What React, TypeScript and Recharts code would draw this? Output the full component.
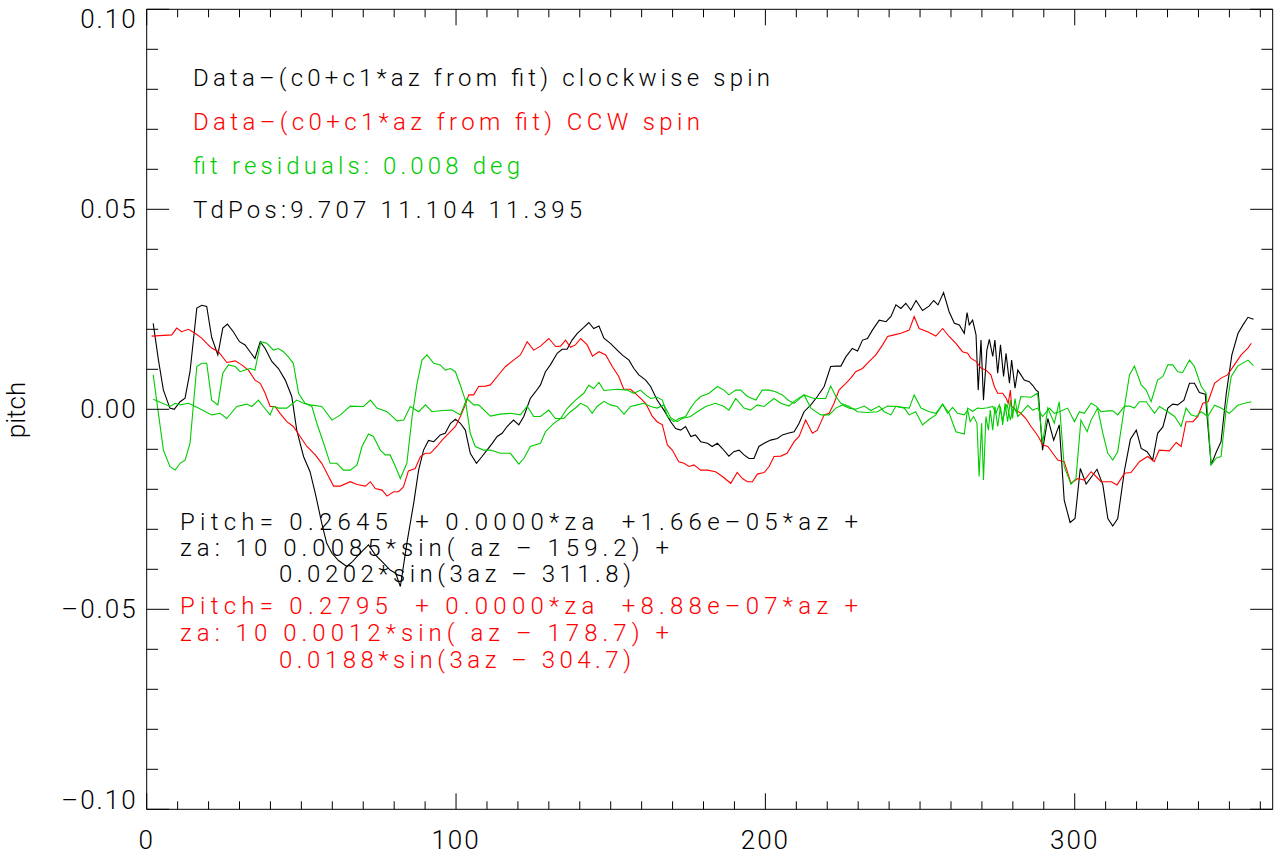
import { LineChart, XAxis, YAxis, Line } from 'recharts';

// Data − (c0 + c1*az from fit), clockwise spin  [az, pitch]
const cwSpin: [number, number][] = [
  [2.1, 0.0215], [3.8, 0.0123], [5.4, 0.0048], [7.5, 0.0003], [8.9, 0.0], [10.8, 0.0019], [12.4, 0.0028],
  [14.0, 0.0094], [16.2, 0.0253], [17.8, 0.026], [19.4, 0.0257], [21.0, 0.018], [23.0, 0.0136], [24.6, 0.0203],
  [26.1, 0.0213], [28.0, 0.0194], [30.0, 0.0169], [31.8, 0.0161], [33.4, 0.0144], [35.0, 0.0127], [36.7, 0.0169],
  [38.3, 0.0152], [40.5, 0.0119], [42.6, 0.0102], [44.8, 0.0073], [46.9, 0.0032], [48.5, -0.0052], [50.7, -0.0118],
  [52.8, -0.0156], [54.5, -0.021], [56.6, -0.0285], [58.2, -0.0335], [59.9, -0.036], [62.0, -0.0378], [64.7, -0.0393],
  [66.6, -0.038], [68.5, -0.0364], [71.7, -0.0339], [73.9, -0.0364], [76.1, -0.0381], [78.7, -0.0402], [80.5, -0.041],
  [82.0, -0.0443], [84.1, -0.0335], [86.3, -0.0235], [87.9, -0.0152], [89.5, -0.0102], [91.1, -0.0078], [92.8, -0.0081],
  [94.9, -0.0064], [96.5, -0.006], [98.2, -0.0035], [99.8, -0.0025], [101.4, -0.0035], [103.0, -0.0052], [104.6, -0.011],
  [106.6, -0.0135], [108.4, -0.0118], [110.0, -0.0102], [111.7, -0.0085], [113.3, -0.0068], [114.9, -0.006], [116.5, -0.0043],
  [118.6, -0.0027], [120.3, -0.0039], [121.9, -0.0018], [124.0, 0.0027], [125.7, 0.0044], [127.3, 0.0061], [128.9, 0.0094],
  [130.5, 0.0111], [132.7, 0.014], [134.3, 0.015], [135.9, 0.015], [137.5, 0.0173], [139.2, 0.019], [141.3, 0.0205],
  [142.9, 0.0217], [144.5, 0.0202], [146.2, 0.0208], [147.8, 0.0178], [149.9, 0.0165], [152.1, 0.0148], [153.7, 0.0136],
  [155.9, 0.0123], [157.5, 0.0102], [159.1, 0.0086], [161.3, 0.0073], [162.9, 0.0057], [165.0, 0.0023], [167.2, -0.0002],
  [169.4, -0.0031], [171.0, -0.0048], [172.6, -0.0052], [174.2, -0.0043], [175.9, -0.0068], [177.4, -0.0064], [179.1, -0.0081],
  [181.3, -0.0085], [182.8, -0.0093], [184.5, -0.0085], [186.1, -0.0098], [188.2, -0.0117], [189.8, -0.0106], [191.5, -0.0102],
  [193.1, -0.0114], [194.7, -0.0123], [196.3, -0.0123], [197.9, -0.0093], [199.6, -0.0085], [201.7, -0.0077], [203.9, -0.0073],
  [205.5, -0.0064], [207.3, -0.006], [209.3, -0.0056], [210.9, -0.0035], [212.5, -0.0006], [214.7, 0.0011], [216.8, 0.0032],
  [219.0, 0.0057], [221.1, 0.0107], [222.8, 0.0108], [224.4, 0.0108], [226.0, 0.0131], [228.1, 0.0152], [229.8, 0.0146],
  [231.4, 0.0173], [233.0, 0.0177], [234.6, 0.0198], [236.8, 0.0223], [239.0, 0.0219], [240.6, 0.0232], [242.2, 0.0261],
  [243.8, 0.0252], [245.4, 0.0265], [247.0, 0.0248], [248.7, 0.0272], [250.8, 0.0247], [252.9, 0.0258], [254.4, 0.0272],
  [255.8, 0.0261], [257.6, 0.0292], [259.4, 0.0244], [261.1, 0.0215], [262.7, 0.0211], [264.3, 0.019], [265.2, 0.0242],
  [265.9, 0.0211], [267.0, 0.0223], [268.1, 0.0186], [268.8, 0.0048], [269.7, 0.0173], [270.5, 0.0023], [271.6, 0.0148],
  [272.4, 0.0175], [273.5, 0.0132], [274.2, 0.0173], [275.1, 0.009], [276.0, 0.0161], [277.0, 0.0082], [277.8, 0.014],
  [278.9, 0.0065], [279.6, 0.0123], [280.7, 0.0053], [281.6, 0.0098], [282.6, 0.0086], [283.7, 0.0073], [285.3, 0.0069],
  [286.4, 0.006], [287.5, 0.0048], [288.2, 0.0044], [289.6, -0.0102], [291.3, -0.0023], [293.2, -0.0077], [295.0, -0.0039],
  [296.6, -0.0227], [298.5, -0.0283], [300.1, -0.0273], [301.8, -0.0148], [303.7, -0.0187], [305.5, -0.0168], [307.2, -0.015],
  [309.1, -0.0189], [310.7, -0.0273], [312.3, -0.0292], [313.9, -0.0273], [316.1, -0.0152], [318.0, -0.0075], [319.9, -0.0052],
  [321.5, -0.0098], [323.4, -0.0106], [325.2, -0.0127], [326.8, -0.006], [328.5, -0.0044], [330.1, 0.0003], [331.7, 0.0013],
  [333.3, 0.0011], [335.3, 0.0023], [337.1, 0.0065], [338.7, 0.0065], [340.3, 0.0042], [342.2, 0.0038], [344.1, -0.0139],
  [345.8, -0.0106], [347.3, -0.0081], [349.0, 0.004], [350.8, 0.0136], [352.8, 0.019], [354.4, 0.0211], [356.0, 0.023],
  [357.8, 0.0225],
];

// Data − (c0 + c1*az from fit), CCW spin
const ccwSpin: [number, number][] = [
  [1.6, 0.0183], [8.1, 0.0186], [9.7, 0.0203], [11.3, 0.0194], [13.5, 0.02], [15.6, 0.019], [17.8, 0.0178],
  [19.4, 0.0165], [21.0, 0.0153], [23.2, 0.0144], [25.9, 0.0117], [28.6, 0.0121], [30.7, 0.0111], [32.9, 0.0098],
  [35.0, 0.0073], [36.7, 0.0065], [38.3, 0.004], [39.9, 0.0007], [41.5, 0.0007], [43.1, -0.001], [45.3, -0.0031],
  [47.4, -0.0043], [49.6, -0.0068], [51.8, -0.0093], [54.5, -0.0114], [56.6, -0.0135], [58.8, -0.0168], [60.4, -0.0192],
  [62.6, -0.0192], [65.8, -0.0181], [68.0, -0.0188], [70.7, -0.0192], [72.3, -0.0181], [73.9, -0.0198], [76.1, -0.0202],
  [77.7, -0.0217], [79.8, -0.0206], [81.4, -0.0206], [83.0, -0.0194], [84.6, -0.0154], [86.8, -0.0148], [88.5, -0.0118],
  [90.1, -0.011], [91.7, -0.011], [93.8, -0.0093], [95.5, -0.0077], [97.6, -0.006], [99.8, -0.0043], [101.4, -0.0018],
  [103.0, 0.0011], [104.1, 0.0036], [105.7, 0.0036], [107.3, 0.0057], [109.5, 0.0058], [111.1, 0.0061], [113.3, 0.0082],
  [116.0, 0.0107], [118.6, 0.0123], [120.8, 0.0136], [123.0, 0.0169], [125.1, 0.0148], [127.3, 0.0158], [130.0, 0.0177],
  [132.2, 0.0157], [133.8, 0.0158], [135.4, 0.0173], [137.0, 0.0155], [138.6, 0.0161], [140.3, 0.0177], [142.4, 0.0161],
  [144.1, 0.0133], [146.2, 0.0144], [148.4, 0.0136], [150.5, 0.0107], [152.6, 0.0082], [154.2, 0.005], [156.4, 0.005],
  [158.5, 0.0036], [161.3, 0.0015], [163.4, -0.0017], [165.0, -0.0031], [166.7, -0.0039], [168.3, -0.0089], [169.9, -0.0102],
  [172.0, -0.0131], [173.7, -0.0135], [175.3, -0.0143], [176.9, -0.0139], [179.1, -0.0152], [181.3, -0.0152], [183.9, -0.0156],
  [186.1, -0.0168], [188.8, -0.0185], [190.9, -0.0158], [192.6, -0.0173], [194.2, -0.0181], [195.8, -0.0181], [197.4, -0.0162],
  [199.6, -0.0158], [201.2, -0.0143], [202.8, -0.0118], [205.0, -0.0117], [207.0, -0.011], [209.3, -0.0081], [210.9, -0.0068],
  [213.0, -0.0027], [215.2, -0.006], [216.8, -0.0052], [219.0, -0.0014], [220.6, -0.001], [222.2, 0.0015], [223.8, 0.0048],
  [226.0, 0.0065], [227.6, 0.0078], [229.2, 0.0094], [231.4, 0.0102], [233.5, 0.0119], [235.7, 0.0136], [237.9, 0.0161],
  [239.5, 0.0182], [241.6, 0.0186], [243.8, 0.019], [246.5, 0.0198], [248.1, 0.0232], [249.7, 0.0202], [252.4, 0.0194],
  [255.1, 0.0183], [257.3, 0.0202], [259.4, 0.0182], [261.6, 0.0165], [263.7, 0.0144], [265.4, 0.014], [266.4, 0.0128],
  [268.1, 0.012], [269.7, 0.0103], [271.3, 0.0098], [272.9, 0.0086], [274.0, 0.0057], [275.1, 0.004], [276.7, 0.004],
  [277.8, 0.0028], [278.5, 0.0015], [279.2, 0.0048], [279.6, 0.0007], [281.0, -0.0002], [282.6, -0.001], [284.2, -0.0023],
  [285.9, -0.0043], [287.5, -0.006], [288.6, -0.0073], [289.6, -0.0089], [291.3, -0.0093], [292.9, -0.011], [294.5, -0.0127],
  [296.6, -0.0131], [298.8, -0.0185], [301.0, -0.0173], [303.1, -0.0177], [305.3, -0.0156], [306.9, -0.0168], [308.5, -0.0181],
  [311.8, -0.0181], [313.7, -0.0189], [316.1, -0.016], [318.2, -0.0158], [320.9, -0.0131], [323.6, -0.0118], [325.7, -0.0131],
  [327.3, -0.0102], [330.6, -0.0104], [332.8, -0.0083], [334.4, -0.0093], [336.0, -0.0031], [338.2, -0.0031], [339.8, -0.0018],
  [341.4, 0.0015], [343.1, 0.0019], [345.2, 0.0065], [347.3, 0.0078], [349.4, 0.0086], [351.6, 0.0111], [353.8, 0.0136],
  [356.0, 0.0153], [357.1, 0.0165],
];

// fit residuals, clockwise
const cwResidual: [number, number][] = [
  [2.1, 0.0086], [5.4, -0.0102], [7.5, -0.0143], [9.2, -0.0152], [10.8, -0.0135], [12.4, -0.0127], [14.0, -0.0085],
  [16.2, 0.0107], [17.8, 0.0115], [19.4, 0.0115], [21.0, 0.0023], [23.0, 0.0011], [24.6, 0.009], [26.4, 0.0111],
  [28.6, 0.0107], [30.2, 0.0094], [31.8, 0.0098], [33.4, 0.0102], [35.0, 0.0098], [36.9, 0.0169], [38.8, 0.0165],
  [41.0, 0.0148], [42.6, 0.0152], [44.2, 0.0144], [45.8, 0.0131], [47.4, 0.0115], [49.1, 0.004], [51.2, 0.0015],
  [53.4, 0.0007], [55.0, -0.0035], [57.2, -0.0085], [59.3, -0.0135], [61.5, -0.0135], [63.6, -0.0152], [65.8, -0.0152],
  [68.0, -0.0139], [69.6, -0.0093], [71.7, -0.0062], [73.3, -0.0068], [75.5, -0.0102], [77.1, -0.0114], [78.7, -0.0114],
  [80.4, -0.0143], [82.0, -0.0173], [84.1, -0.0135], [85.8, -0.0018], [87.4, 0.0065], [89.0, 0.0123], [90.6, 0.0136],
  [92.8, 0.0115], [94.9, 0.0111], [96.5, 0.0098], [98.2, 0.0102], [99.8, 0.0094], [101.4, 0.006], [103.0, 0.0023],
  [104.6, -0.006], [106.2, -0.0093], [108.9, -0.0102], [111.1, -0.0102], [114.3, -0.011], [117.6, -0.011], [120.3, -0.0137],
  [121.9, -0.0123], [124.0, -0.0093], [127.3, -0.0085], [128.9, -0.0056], [131.6, -0.0035], [133.8, -0.0023], [135.9, 0.0002],
  [138.6, 0.0023], [141.3, 0.004], [142.9, 0.006], [144.5, 0.0052], [146.2, 0.0067], [147.8, 0.0047], [152.1, 0.005],
  [155.3, 0.0048], [157.5, 0.004], [159.6, 0.0048], [161.3, 0.0036], [162.9, 0.0027], [165.0, 0.003], [166.7, 0.0023],
  [168.3, -0.0018], [170.4, -0.0031], [172.1, -0.0023], [174.2, -0.0018], [175.8, 0.0003], [177.4, 0.002], [179.1, 0.0032],
  [181.8, 0.004], [184.5, 0.0057], [186.6, 0.0048], [188.2, 0.0036], [190.4, 0.0048], [192.0, 0.0048], [194.2, 0.0032],
  [196.9, 0.0023], [199.0, 0.0048], [201.2, 0.0048], [203.3, 0.0044], [205.5, 0.0036], [207.5, 0.0022], [209.3, 0.0015],
  [212.5, 0.0036], [215.7, 0.0027], [219.5, 0.0027], [221.1, 0.0058], [222.8, 0.0032], [224.4, 0.0015], [227.1, 0.0007],
  [229.8, -0.0006], [233.0, -0.0008], [236.2, -0.0006], [239.5, 0.0008], [242.2, 0.0007], [246.5, 0.0003], [248.1, 0.0036],
  [250.3, 0.0003], [253.0, -0.0006], [255.1, -0.001], [257.3, 0.0013], [259.4, -0.001], [261.6, -0.0056], [264.3, -0.0062],
  [265.4, 0.0003], [267.0, -0.0005], [268.6, 0.0003], [270.2, 0.0002], [271.8, 0.0004], [273.5, 0.0007], [274.5, -0.001],
  [275.6, 0.0011], [276.7, -0.0027], [278.1, 0.0013], [279.2, -0.0027], [280.2, 0.0007], [281.3, -0.001], [282.6, 0.0032],
  [285.9, 0.003], [288.0, 0.004], [289.6, -0.0085], [291.3, 0.0003], [293.4, -0.0035], [295.0, 0.0019], [296.6, -0.0143],
  [298.8, -0.0187], [300.4, -0.0173], [302.0, -0.0027], [304.0, -0.0056], [305.3, -0.0027], [307.4, 0.0003], [309.1, -0.006],
  [310.7, -0.011], [312.3, -0.0127], [313.9, -0.0106], [316.1, 0.0007], [317.7, 0.0086], [319.3, 0.0108], [321.5, 0.0061],
  [323.1, 0.0048], [324.7, 0.0019], [326.8, 0.0073], [328.5, 0.0082], [330.1, 0.0111], [331.7, 0.0111], [333.3, 0.0094],
  [334.9, 0.0092], [337.1, 0.0123], [338.7, 0.0107], [340.9, 0.0057], [342.5, 0.004], [344.1, -0.0139], [345.7, -0.0122],
  [347.3, -0.0118], [349.0, 0.0003], [350.6, 0.0082], [352.7, 0.0108], [356.0, 0.0123], [357.8, 0.0109],
];

// fit residuals, CCW
const ccwResidual: [number, number][] = [
  [2.1, 0.0025], [7.5, 0.0007], [9.2, 0.0015], [10.8, 0.0011], [13.5, 0.0015], [16.7, 0.0003], [21.0, -0.0014],
  [23.7, -0.001], [25.9, -0.0023], [29.1, 0.0007], [32.4, 0.0013], [34.0, 0.0007], [36.1, 0.0023], [37.7, 0.0007],
  [39.9, -0.0014], [41.0, 0.0007], [42.6, 0.0003], [45.3, 0.0003], [48.5, 0.0023], [50.7, 0.0015], [52.8, 0.0011],
  [56.6, 0.0007], [59.9, -0.0027], [62.6, -0.0014], [65.8, 0.0008], [70.1, 0.0007], [72.3, 0.0023], [74.4, 0.0003],
  [77.7, -0.0006], [80.9, -0.0029], [83.1, -0.0027], [85.2, 0.0007], [87.9, -0.0006], [90.1, 0.0011], [92.2, -0.0006],
  [95.5, -0.0003], [98.7, -0.0002], [101.4, -0.0014], [103.5, 0.0027], [105.7, 0.0011], [107.3, 0.0011], [111.1, -0.0017],
  [114.3, -0.0012], [117.6, -0.001], [120.8, -0.0014], [123.0, 0.0008], [125.1, -0.0018], [127.3, -0.0018], [130.0, -0.0002],
  [132.1, -0.0023], [134.8, -0.0023], [137.0, -0.0006], [139.2, 0.0007], [140.2, 0.0015], [142.4, 0.0007], [144.0, -0.001],
  [145.6, 0.0007], [147.8, 0.002], [149.9, 0.0011], [152.1, 0.0007], [154.3, -0.0012], [156.4, 0.0007], [158.6, 0.0011],
  [160.7, 0.0015], [162.9, 0.0007], [165.0, 0.0003], [167.2, 0.0011], [169.4, -0.0021], [171.5, -0.0031], [173.1, -0.0023],
  [175.8, -0.0018], [178.0, -0.0006], [180.7, 0.0007], [183.9, 0.0015], [186.6, 0.0007], [188.2, -0.0002], [190.4, 0.0027],
  [193.1, 0.0003], [195.2, -0.0002], [197.4, 0.0011], [199.6, 0.0007], [202.8, 0.0027], [205.0, 0.0015], [207.6, 0.0008],
  [209.8, 0.0023], [212.5, 0.0036], [214.7, 0.0003], [217.9, -0.0014], [220.6, -0.0014], [222.8, 0.0003], [224.9, 0.0011],
  [227.1, 0.0003], [229.2, 0.0], [232.0, 0.0008], [234.1, -0.0003], [236.8, 0.0008], [238.4, -0.0006], [240.6, -0.0014],
  [242.2, 0.0008], [244.9, 0.0003], [246.5, -0.0014], [248.6, -0.0006], [250.8, -0.0039], [253.0, -0.0025], [255.1, -0.0014],
  [257.3, 0.0013], [258.9, -0.001], [260.5, 0.0005], [262.1, -0.001], [264.3, -0.0014], [265.4, -0.0002], [266.2, -0.0031],
  [267.3, -0.0018], [268.4, -0.0035], [269.1, -0.0168], [269.9, -0.0035], [270.5, -0.0177], [271.3, -0.0018], [272.1, -0.0052],
  [272.7, -0.0002], [273.5, -0.0052], [274.2, 0.0007], [275.1, -0.0043], [276.0, 0.0007], [276.7, -0.0039], [277.5, 0.0015],
  [278.3, -0.0031], [279.2, 0.0023], [279.9, -0.0023], [280.7, 0.0027], [281.6, -0.0018], [282.6, -0.001], [284.8, 0.001],
  [286.4, -0.0002], [288.0, 0.0003], [289.6, -0.0018], [291.8, 0.0003], [293.4, -0.001], [295.0, -0.0006], [297.7, 0.0003],
  [299.9, -0.0031], [301.5, -0.0006], [303.1, -0.001], [305.3, 0.0015], [306.9, 0.0008], [308.5, -0.0006], [310.7, -0.0004],
  [312.3, -0.0004], [313.9, -0.0014], [316.1, 0.0008], [317.7, 0.0008], [319.3, 0.0003], [320.9, 0.0019], [323.1, 0.0019],
  [325.8, -0.001], [327.4, 0.0007], [330.1, -0.0006], [332.3, -0.0018], [334.4, -0.0043], [336.0, 0.0003], [337.6, -0.0014],
  [339.3, -0.0018], [340.9, -0.0006], [343.0, -0.0018], [345.2, 0.001], [347.3, 0.0003], [350.0, -0.001], [352.7, 0.001],
  [354.9, 0.0015], [357.1, 0.0019],
];

const xTicks = [0, 10, 20, 30, 40, 50, 60, 70, 80, 90, 100, 110, 120, 130, 140, 150, 160, 170, 180, 190, 200,
  210, 220, 230, 240, 250, 260, 270, 280, 290, 300, 310, 320, 330, 340, 350, 360];
const xLabels = [0, 100, 200, 300];
const yTicks = [-0.1, -0.09, -0.08, -0.07, -0.06, -0.05, -0.04, -0.03, -0.02, -0.01, 0,
  0.01, 0.02, 0.03, 0.04, 0.05, 0.06, 0.07, 0.08, 0.09, 0.1];
const yLabels = [-0.1, -0.05, 0, 0.05, 0.1];

const legendLines = [
  { text: 'Data–(c0+c1*az from fit) clockwise spin', color: '#000000', width: 577 },
  { text: 'Data–(c0+c1*az from fit) CCW spin', color: '#ff0000', width: 507 },
  { text: 'fit residuals: 0.008 deg', color: '#00cc00', width: 327 },
  { text: 'TdPos:9.707 11.104 11.395', color: '#000000', width: 389 },
];

const fitLines = [
  { text: 'Pitch= 0.2645  + 0.0000*za  +1.66e–05*az +', color: '#000000', x: 180, y: 530, width: 678 },
  { text: 'za: 10 0.0085*sin( az – 159.2) +', color: '#000000', x: 180, y: 556, width: 489 },
  { text: '0.0202*sin(3az – 311.8)', color: '#000000', x: 279, y: 582, width: 352 },
  { text: 'Pitch= 0.2795  + 0.0000*za  +8.88e–07*az +', color: '#ff0000', x: 180, y: 614, width: 678 },
  { text: 'za: 10 0.0012*sin( az – 178.7) +', color: '#ff0000', x: 180, y: 641, width: 489 },
  { text: '0.0188*sin(3az – 304.7)', color: '#ff0000', x: 279, y: 668, width: 352 },
];

const FONT = 'Roboto, "Liberation Sans", Arial, sans-serif';
const AXIS = '#000000';

const toRows = (pts: [number, number][]) => pts.map(([az, pitch]) => ({ az, pitch }));

const isMajorY = (v: number) => yLabels.some((m) => Math.abs(m - v) < 1e-6);
const fmtY = (v: number) => {
  const s = Math.abs(v).toFixed(2);
  return v < -1e-9 ? '–' + s : s;
};

const BottomTick = (props: any) => {
  const { x, y, payload } = props;
  const major = xLabels.includes(payload.value);
  return (
    <g>
      <line x1={x} x2={x} y1={y} y2={y - (major ? 16 : 8)} stroke={AXIS} strokeWidth={1} />
      {major && (
        <text x={x} y={y + 40} textAnchor="middle" fontFamily={FONT} fontWeight={300} fontSize={26}
          letterSpacing={2} fill="#000">
          {payload.value}
        </text>
      )}
    </g>
  );
};

const TopTick = (props: any) => {
  const { x, y, payload } = props;
  const major = xLabels.includes(payload.value);
  return <line x1={x} x2={x} y1={y} y2={y + (major ? 16 : 8)} stroke={AXIS} strokeWidth={1} />;
};

const LeftTick = (props: any) => {
  const { x, y, payload } = props;
  const v = payload.value;
  const major = isMajorY(v);
  let shift = 0;
  if (v > 0.099) shift = 10;
  if (v < -0.099) shift = -9;
  return (
    <g>
      <line x1={x} x2={x + (major ? 22.5 : 11.3)} y1={y} y2={y} stroke={AXIS} strokeWidth={1} />
      {major && (
        <text x={x - 9} y={y + shift + 9} textAnchor="end" fontFamily={FONT} fontWeight={300} fontSize={26}
          letterSpacing={2} fill="#000">
          {fmtY(v)}
        </text>
      )}
    </g>
  );
};

const RightTick = (props: any) => {
  const { x, y, payload } = props;
  const major = isMajorY(payload.value);
  return <line x1={x} x2={x - (major ? 22.5 : 11.3)} y1={y} y2={y} stroke={AXIS} strokeWidth={1} />;
};

const App = () => {
  return (
    <div style={{ position: 'absolute', left: 0, top: 0, width: 1275, height: 858, background: '#fff' }}>
      <LineChart width={1275} height={858} margin={{ top: 0, right: 0, bottom: 0, left: 0 }}>
        <XAxis xAxisId="bottom" type="number" dataKey="az" domain={[0, 364]} allowDataOverflow ticks={xTicks}
          interval={0} orientation="bottom" height={48.7} tickLine={false} tickSize={0} tickMargin={0}
          axisLine={{ stroke: AXIS }} tick={(p: any) => <BottomTick {...p} />} />
        <XAxis xAxisId="top" type="number" dataKey="az" domain={[0, 364]} allowDataOverflow ticks={xTicks}
          interval={0} orientation="top" height={9.3} tickLine={false} tickSize={0} tickMargin={0}
          axisLine={{ stroke: AXIS }} tick={(p: any) => <TopTick {...p} />} />
        <YAxis yAxisId="left" type="number" dataKey="pitch" domain={[-0.1, 0.1]} allowDataOverflow ticks={yTicks}
          interval={0} width={146.7} tickLine={false} tickSize={0} tickMargin={0}
          axisLine={{ stroke: AXIS }} tick={(p: any) => <LeftTick {...p} />} />
        <YAxis yAxisId="right" orientation="right" type="number" dataKey="pitch" domain={[-0.1, 0.1]}
          allowDataOverflow ticks={yTicks} interval={0} width={2.3} tickLine={false} tickSize={0} tickMargin={0}
          axisLine={{ stroke: AXIS }} tick={(p: any) => <RightTick {...p} />} />
        <Line xAxisId="bottom" yAxisId="left" data={toRows(cwSpin)} dataKey="pitch" type="linear" stroke="#000000"
          strokeWidth={1.1} dot={false} activeDot={false} isAnimationActive={false} />
        <Line xAxisId="bottom" yAxisId="left" data={toRows(ccwSpin)} dataKey="pitch" type="linear" stroke="#ff0000"
          strokeWidth={1.1} dot={false} activeDot={false} isAnimationActive={false} />
        <Line xAxisId="bottom" yAxisId="left" data={toRows(cwResidual)} dataKey="pitch" type="linear" stroke="#00cc00"
          strokeWidth={1.1} dot={false} activeDot={false} isAnimationActive={false} />
        <Line xAxisId="bottom" yAxisId="left" data={toRows(ccwResidual)} dataKey="pitch" type="linear" stroke="#00cc00"
          strokeWidth={1.1} dot={false} activeDot={false} isAnimationActive={false} />
      </LineChart>
      <svg width={1275} height={858} style={{ position: 'absolute', left: 0, top: 0, pointerEvents: 'none' }}>
        <text x={25} y={410} transform="rotate(-90 25 410)" textAnchor="middle" fontFamily={FONT} fontWeight={300}
          fontSize={26} fill="#000">
          pitch
        </text>
        {legendLines.map((l, i) => (
          <text key={i} x={193} y={86 + i * 44} fontFamily={FONT} fontWeight={300} fontSize={24} fill={l.color}
            textLength={l.width} lengthAdjust="spacing" style={{ whiteSpace: 'pre' }}>
            {l.text}
          </text>
        ))}
        {fitLines.map((l, i) => (
          <text key={i} x={l.x} y={l.y} fontFamily={FONT} fontWeight={300} fontSize={24} fill={l.color}
            textLength={l.width} lengthAdjust="spacing" style={{ whiteSpace: 'pre' }}>
            {l.text}
          </text>
        ))}
      </svg>
    </div>
  );
};

export default App;
